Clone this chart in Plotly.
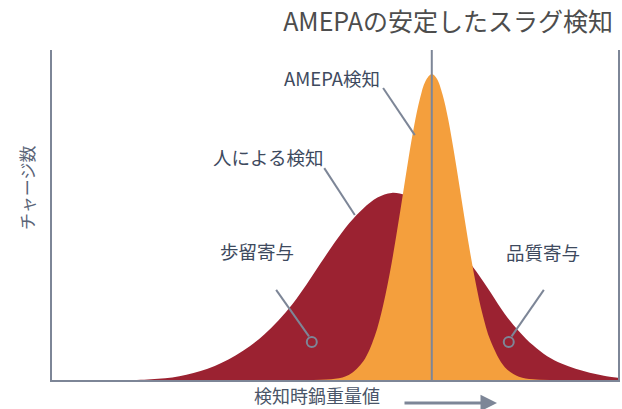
import plotly.graph_objects as go

# ---- data (arbitrary units) ----
red_x = [0, 5, 10, 15, 17.5, 20, 22.5, 25, 27.5, 30, 32.5, 35, 37.5, 40, 42.5, 45, 47.5,
         50, 52.5, 55, 57.5, 60, 62.5, 65, 67.5, 70, 72.5, 75, 77.5, 80, 82.5, 85, 87.5,
         90, 92.5, 95, 97.5, 100]
red_y = [0, 0, 0, 0, 0.2, 0.5, 1.1, 2.1, 3.4, 5.2, 7.5, 10.3, 13.8, 18, 23, 29, 35.5,
         41.8, 47.5, 52, 55.3, 56.7, 56, 53.5, 49.5, 45, 38.5, 32.8, 26.5, 20, 14.8, 10.5, 7.2,
         5, 3.4, 2.2, 1.3, 0.7]

orange_x = [45, 50, 52.5, 55, 57, 58.5, 60, 61, 62, 63, 64, 65, 66, 67.1, 68, 69, 70, 71,
            72, 73, 74, 75, 76, 77.5, 80, 82.5, 85, 90]
orange_y = [0, 0.35, 1.6, 5.7, 13.2, 22.6, 35.4, 45.6, 56.4, 67.3, 77.2, 85.2, 90.6, 92.7,
            91.3, 86.5, 79.0, 69.3, 58.6, 47.7, 37.4, 28.2, 20.4, 11.8, 3.9, 1.0, 0.2, 0]

center_x = 67.1

title_text = "AMEPAの安定したスラグ検知"
y_title = "チャージ数"
x_title = "検知時鍋重量値"
labels = ["AMEPA検知", "人による検知", "歩留寄与", "品質寄与"]

RED = "#9B2231"
ORANGE = "#F49F3D"
GRAY = "#7D8697"
TXT = "#3E4A5E"
FONT = "Noto Sans CJK JP"

fig = go.Figure()
fig.add_trace(go.Scatter(x=red_x, y=red_y, mode="lines", line=dict(color=RED, width=0, shape="spline"),
                         fill="tozeroy", fillcolor=RED, hoverinfo="skip"))
fig.add_trace(go.Scatter(x=orange_x, y=orange_y, mode="lines", line=dict(color=ORANGE, width=0, shape="spline"),
                         fill="tozeroy", fillcolor=ORANGE, hoverinfo="skip"))

# center line
fig.add_shape(type="line", x0=center_x, x1=center_x, y0=0, y1=100, xref="x", yref="y",
              line=dict(color=GRAY, width=2))

# callout lines
callouts = [((58.5, 88.5), (64.1, 74.2)),
            ((48.1, 64.2), (53.5, 50.0)),
            ((39.6, 27.3), (45.4, 13.2)),
            ((86.9, 27.3), (81.2, 13.2))]
for (x0, y0), (x1, y1) in callouts:
    fig.add_shape(type="line", x0=x0, y0=y0, x1=x1, y1=y1, xref="x", yref="y",
                  line=dict(color=GRAY, width=2))
for cx in (45.9, 80.7):
    fig.add_shape(type="circle", xref="x", yref="y", xsizemode="pixel", ysizemode="pixel",
                  xanchor=cx, yanchor=11.5, x0=-5, x1=5, y0=-5, y1=5,
                  line=dict(color=GRAY, width=2), fillcolor="rgba(0,0,0,0)")

label_pos = [(49.5, 91.5), (38.2, 67.6), (36.2, 39.1), (86.7, 38.8)]
for t, (lx, ly) in zip(labels, label_pos):
    fig.add_annotation(x=lx, y=ly, xref="x", yref="y", text=t, showarrow=False,
                       xanchor="center", yanchor="middle",
                       font=dict(family=FONT, size=18.5, color=TXT))

# axis titles
fig.add_annotation(x=-0.044, y=0.582, xref="paper", yref="paper", text=y_title, textangle=-90,
                   xanchor="center", yanchor="middle",
                   showarrow=False, font=dict(family=FONT, size=17, color="#5A6477"))
fig.add_annotation(x=0.468, y=(380 - 409) / 330, xref="paper", yref="paper", text=x_title,
                   xanchor="center", yanchor="bottom", borderpad=0,
                   showarrow=False, font=dict(family=FONT, size=18, color="#4A5568"))
fig.add_annotation(x=(497 - 52) / 566, y=(380 - 403) / 330, xref="paper", yref="paper", text="",
                   showarrow=True, ax=-94, ay=0, arrowhead=2, arrowsize=1.1, arrowwidth=3,
                   arrowcolor=GRAY)

fig.update_layout(
    width=622, height=409,
    margin=dict(l=52, r=4, t=50, b=29, autoexpand=False),
    paper_bgcolor="white", plot_bgcolor="white",
    showlegend=False,
    title=dict(text=title_text, x=613 / 622, xanchor="right", y=1 - 22 / 409, yanchor="middle",
               font=dict(family=FONT, size=25, color="#4D4D4D")),
    xaxis=dict(range=[0, 100], showgrid=False, zeroline=False, showticklabels=False, ticks="",
               showline=True, linecolor=GRAY, linewidth=2),
    yaxis=dict(range=[0, 100], showgrid=False, zeroline=False, showticklabels=False, ticks="",
               showline=True, linecolor=GRAY, linewidth=2, mirror=True),
)

fig.write_html("out.html", config={"displayModeBar": False},
               post_script="document.body.style.margin='0';document.body.style.padding='0';")
